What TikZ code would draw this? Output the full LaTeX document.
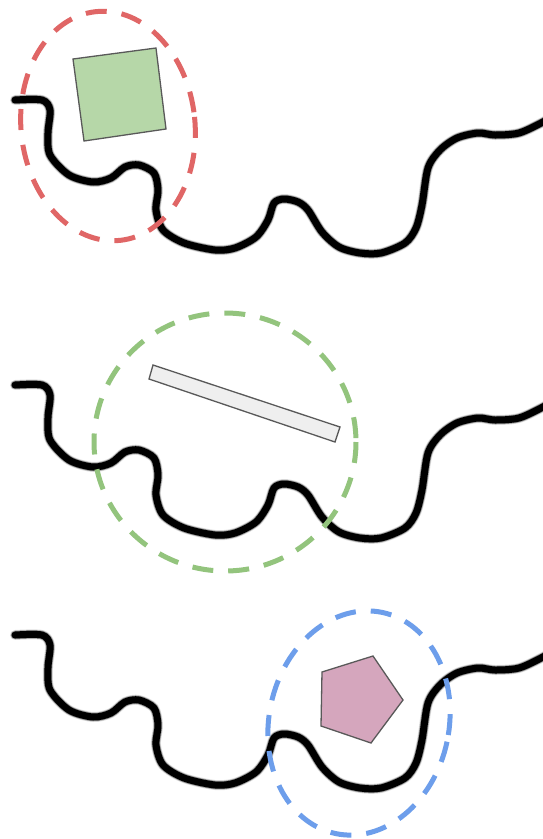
\documentclass[tikz,border=0pt]{standalone}
\usetikzlibrary{calc}
\definecolor{redd}{HTML}{E06666}
\definecolor{greend}{HTML}{93C47D}
\definecolor{blued}{HTML}{6D9EEB}
\definecolor{sqfill}{HTML}{B6D7A8}
\definecolor{barfill}{HTML}{EFEFEF}
\definecolor{penfill}{HTML}{D5A6BD}
\definecolor{edge}{HTML}{595959}
\tikzset{
  wavecurve/.style={line cap=round, line join=round},
  ring/.style={line width=5pt, dash pattern=on 21pt off 15pt},
  shapeedge/.style={draw=edge, line width=1.3pt, line join=miter},
  wave/.pic={
    \foreach \w/\o in {10/0.12, 8.5/0.35, 7/1} {
      \draw[wavecurve, line width=\w pt, black, opacity=\o]
        plot[smooth, tension=0.5] coordinates {
          (15,100) (42,100) (50,110) (48,133) (50,155) (69,175) (93,182) (111,178)
          (125,167) (139,165) (154,173) (158,190) (156,210) (163,230) (184,243)
          (215,250) (235,248) (256,237) (268,220) (274,203) (284,199) (298,202)
          (308,210) (322,232) (339,247) (360,253) (381,253) (405,243) (416,228)
          (422,205) (428,168) (440,150) (457,138) (478,133) (495,135) (519,133)
          (543,122) (556,114)};
    }
  }
}
\begin{document}
\begin{tikzpicture}[x=1pt,y=-1pt]
\useasboundingbox (0,0) rectangle (543,839);
\fill[white] (0,0) rectangle (543,839);

% panel 1
\pic at (0,0) {wave};
\draw[shapeedge, fill=sqfill] (73,59) -- (156,48) -- (166,129) -- (84,141) -- cycle;
\draw[ring, redd, rotate around={6:(108,126)}] (108,126) ellipse [x radius=87, y radius=115];

% panel 2
\pic at (0,285) {wave};
\draw[shapeedge, fill=barfill] (153,365) -- (340,427) -- (335,442) -- (149,379) -- cycle;
\draw[ring, greend] (225,442) ellipse [x radius=131, y radius=129];

% panel 3
\pic at (0,535) {wave};
\draw[shapeedge, fill=penfill] (322,672) -- (373,656) -- (403,700) -- (371,743) -- (321,726) -- cycle;
\draw[ring, blued, rotate around={-12:(359,723)}] (359,723) ellipse [x radius=90, y radius=113];
\end{tikzpicture}
\end{document}
